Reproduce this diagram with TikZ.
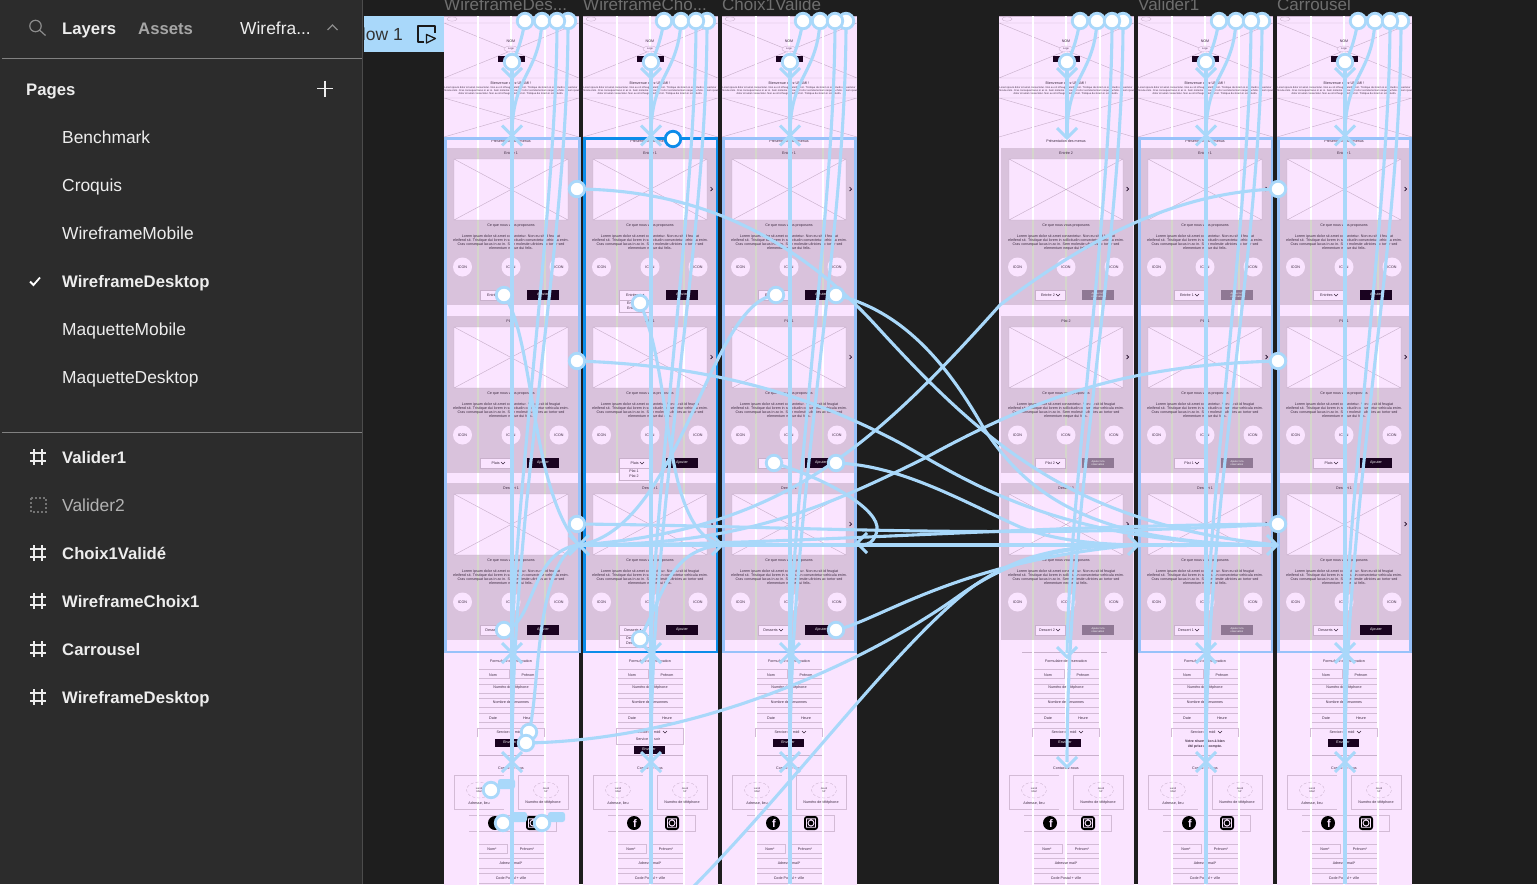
\documentclass[tikz,border=0pt]{standalone}
\usepackage{fontspec}
\setmainfont{Liberation Sans}
\definecolor{sidebar}{HTML}{2C2C2C}
\definecolor{canvas}{HTML}{1E1E1E}
\definecolor{wfpink}{HTML}{FAE4FF}
\definecolor{wfpurple}{HTML}{D9C2DC}
\definecolor{wfline}{HTML}{C9B1CC}
\definecolor{wfguide}{HTML}{D5D6CC}
\definecolor{wfink}{HTML}{3C2A40}
\definecolor{wfblack}{HTML}{1A0320}
\definecolor{wfgrey}{HTML}{8F7894}
\definecolor{flowblue}{HTML}{A9D8FA}
\definecolor{selblue}{HTML}{0C8CE9}
\definecolor{sidetext}{HTML}{EDEDED}
\tikzset{
  x=1pt,y=-1pt,
  tiny3/.style={font=\fontsize{3.65}{4.2}\selectfont,text=wfink,inner sep=0pt,align=center},
  tiny2/.style={font=\fontsize{2.55}{3.4}\selectfont,text=wfink,inner sep=0pt,align=center},
  wfbox/.style={draw=wfline!80!wfpink,line width=.45pt},
  wfthin/.style={draw=wfline,line width=.35pt},
  flowline/.style={draw=flowblue,line width=3.1pt},
  flowtip/.style={draw=flowblue,line width=3.1pt},
  hotspot/.style={circle,draw=flowblue,fill=white,line width=2.8pt,minimum size=15.5pt,inner sep=0pt},
  pill/.style={fill=flowblue,rounded corners=2.5pt},
  sidereg/.style={font=\fontsize{17.4}{20}\selectfont,text=sidetext,anchor=base west,inner sep=0pt,yshift=-6pt},
  sidebold/.style={font=\fontsize{16.7}{20}\bfseries\selectfont,text=sidetext,anchor=base west,inner sep=0pt,yshift=-6pt},
  frametitle/.style={font=\fontsize{17}{20}\selectfont,text=black!57,anchor=base west,inner sep=0pt},
}
\newcommand\chevD[1]{\draw[flowtip] (#1) ++(-10,-10) -- ++(10,10) -- ++(10,-10);}
\newcommand\chevU[1]{\draw[flowtip] (#1) ++(-10,10) -- ++(10,-10) -- ++(10,10);}
\newcommand\chevR[1]{\draw[flowtip] (#1) ++(-10,-10) -- ++(10,10) -- ++(-10,10);}
\newcommand\chevL[1]{\draw[flowtip] (#1) ++(10,-10) -- ++(-10,10) -- ++(10,10);}
\newcommand\wfimage[4]{%
  \fill[wfpink] (#1,#2) rectangle (#3,#4);
  \draw[white,line width=1.6pt] (34,#2) -- (34,#4) (67,#2) -- (67,#4) (101,#2) -- (101,#4);
  \draw[wfline,line width=.45pt] (#1,#2) rectangle (#3,#4) (#1,#2) -- (#3,#4) (#1,#4) -- (#3,#2);}
\newcommand\hashicon[2]{\draw[sidetext,line width=1.3pt] (#1-4,#2-8) -- (#1-4,#2+8) (#1+4,#2-8) -- (#1+4,#2+8) (#1-8,#2-4) -- (#1+8,#2-4) (#1-8,#2+4) -- (#1+8,#2+4);}
% frame background, hero, form, footer
\newcommand\wfbase{%
  \fill[wfpink] (0,16) rectangle (135,890);
  \draw[wfline,line width=.5pt] (0,16.3) -- (135,16.3);
  \draw[wfline,line width=.45pt] (0,23) -- (135,23) (0,78) -- (135,23) (0,23) -- (135,78) (0,78) -- (135,78);
  \draw[wfline,line width=.45pt] (0,98) -- (135,98) (0,137) -- (135,98) (0,98) -- (135,137);
  % form boxes
  \draw[wfthin] (23,652) -- (108,652);
  \draw[wfbox] (65,669) -- (33,669) -- (33,678) -- (65,678) -- cycle (65,669) -- (100,669) (65,678) -- (100,678);
  \draw[wfbox] (33,684) -- (100,684) (33,693) -- (100,693);
  \draw[wfbox] (100,698) -- (33,698) -- (33,707) -- (100,707);
  \draw[wfbox] (65,713) -- (33,713) -- (33,722) -- (65,722) (65,713) -- (100,713) (65,722) -- (100,722);
  \draw[wfthin] (35,755) -- (100,755);
  \draw[wfbox] (60,775) -- (10,775) -- (10,809) -- (60,809);
  \draw[wfbox] (74,775) rectangle (124,809);
  \draw[wfbox] (25,815) -- (112,815) -- (112,831) -- (25,831);
  \draw[wfbox] (33,853) -- (33,844) -- (63,844) -- (63,853) -- cycle (67,844) -- (100,844) -- (100,853) -- (67,853);
  \draw[wfbox] (33,858) -- (100,858) -- (100,868) -- (33,868);
  \draw[wfbox] (33,873) -- (100,873) -- (100,883) -- (33,883);
  \draw[white,line width=1.6pt] (34,16) -- (34,890) (67,16) -- (67,890) (101,16) -- (101,890);
  % hero texts
  \draw[wfthin] (8,19) ellipse (5 and 2.2);
  \node[tiny3] (n1) at (67,41) {NOM};
  \draw[wfthin,fill=wfpink] (67,49) ellipse (7 and 3);
  \node[tiny2] (n2) at (67,49) {Logo};
  \fill[wfblack] (54,56) rectangle (81,62);
  \node[tiny3] (n3) at (67,83.5) {Bienvenue chez UNAMI !};
  \node[tiny2] (n4) at (67,87.5) {Lorem ipsum dolor sit amet consectetur. Non eu sit id feugiat eleifend sit. Tristique dui lorem in sollicitudin consectetur};
  \node[tiny2] (n5) at (67,90.8) {vehicula enim. Cras consequat lacus in ac in. Sem molestie ultricies ac tortor sed elementum neque dui felis. Lorem ipsum};
  \node[tiny2] (n6) at (67,94) {dolor sit amet consectetur. Non eu sit id feugiat eleifend sit. Tristique dui lorem in sollicitudin.};
  \node[tiny3] (n7) at (67,141) {Présentation des menus};
  % form texts
  \node[tiny3] (n8) at (67,661) {Formulaire de réservation};
  \node[tiny3] (n9) at (49,675) {Nom};
  \node[tiny3] (n10) at (84,675) {Prénom};
  \node[tiny3] (n11) at (67,688) {Numéro de téléphone};
  \node[tiny3] (n12) at (67,703) {Nombre de personnes};
  \node[tiny3] (n13) at (49,718) {Date};
  \node[tiny3] (n14) at (84,718) {Heure};
  \node[tiny3] (n15) at (67,768) {Contactez-nous};
  \draw[wfthin,densely dashed] (35,790) ellipse (12.5 and 8) (102,790) ellipse (12.5 and 8);
  \node[tiny2] (n16) at (35,790) {Lundi\\9AM};
  \node[tiny2] (n17) at (102,790) {Jeudi\\5P};
  \node[tiny3] (n18) at (35,803) {Adresse, lieu};
  \node[tiny3] (n19) at (99,803) {Numéro de téléphone};
  \fill[black] (51,823) circle (7);
  \node[font=\fontsize{11}{11}\bfseries\selectfont,text=wfpink,inner sep=0pt] (n20) at (52,824) {f};
  \fill[black,rounded corners=3pt] (82,816) rectangle (96,830);
  \draw[wfpink,line width=.9pt] (89,823) circle (3) (84.5,818.8) rectangle (93.5,827.2);
  \node[tiny3] (n21) at (48,849) {Nom*};
  \node[tiny3] (n22) at (83,849) {Prénom*};
  \node[tiny3] (n23) at (67,863) {Adresse mail*};
  \node[tiny3] (n24) at (67,878) {Code Postal + ville};
}
% menu section #1=offset #2=title #3=dropdown #4=mode(0 black,1 grey)
\newcommand\wfsec[4]{%
  \begin{scope}[shift={(0,#1)}]
  \fill[wfpurple] (2,148) rectangle (134,305);
  \draw[wfguide,line width=1.2pt] (34,148) -- (34,305) (67,148) -- (67,305) (101,148) -- (101,305);
  \node[tiny3] (t1) at (67,153) {#2};
  \wfimage{10}{159}{124}{220}
  \draw[wfblack,line width=.7pt] (127.5,187) -- (129.5,189) -- (127.5,191);
  \node[tiny3] (t2) at (67,226) {Ce que nous vous proposons};
  \node[tiny3] (t3) at (67,237) {Lorem ipsum dolor sit amet consectetur. Non eu sit id feugiat};
  \node[tiny3] (t4) at (67,241) {eleifend sit. Tristique dui lorem in sollicitudin consectetur vehicula enim.};
  \node[tiny3] (t5) at (67,245) {Cras consequat lacus in ac in. Sem molestie ultricies ac tortor sed};
  \node[tiny3] (t6) at (67,249) {elementum neque dui felis.};
  \fill[wfpink] (18.5,267) circle (9.5) (67,267) circle (9.5) (115,267) circle (9.5);
  \node[tiny3] (t7) at (18.5,267) {ICON};
  \node[tiny3] (t8) at (67,267) {ICON};
  \node[tiny3] (t9) at (115,267) {ICON};
  \fill[wfpink,draw=wfline,line width=.3pt] (36,290) rectangle (66,300);
  \node[tiny3,anchor=east] (t10) at (56,295) {#3};
  \draw[wfink,line width=.55pt] (57,294) -- (59,296) -- (61,294);
  \ifnum#4=0
    \fill[wfblack] (83,290) rectangle (115,300);
    \node[tiny3,text=white] (t11) at (99,295) {Ajouter};
  \else
    \fill[wfgrey] (83,290) rectangle (115,300);
    \node[tiny2,text=white] (t11) at (99,295) {Ajouter à la\\réservation};
  \fi
  \end{scope}}
\newcommand\wfpanel[3]{% y, line1, line2
  \fill[wfpink,draw=wfline,line width=.3pt] (36,#1) rectangle (66,#1+12);
  \node[tiny3] (p1) at (51,#1+3.5) {#2};
  \node[tiny3] (p2) at (51,#1+8.5) {#3};}
\newcommand\wfservicehead{%
  \draw[wfbox] (33,737) -- (33,728) -- (100,728) -- (100,737);
  \node[tiny3] (s1) at (65,732) {Service du midi};
  \draw[wfink,line width=.55pt] (80,731) -- (82,733) -- (84,731);}
\newcommand\wfservice{%
  \wfservicehead
  \fill[wfblack] (51,739) rectangle (82,747);
  \node[tiny3,text=white] (s2) at (66,743) {Envoyer};}
\newcommand\wfserviceopen{%
  \wfservicehead
  \draw[wfbox] (33,737) -- (33,744) -- (100,744) -- (100,737);
  \node[tiny3] (s3) at (65,739) {Service du soir};
  \fill[wfblack] (51,746) rectangle (82,754);
  \node[tiny3,text=white] (s2) at (66,750) {Envoyer};}
\newcommand\wfservicedone{%
  \wfservicehead
  \node[tiny3,font=\fontsize{3.5}{4.3}\bfseries\selectfont] (s4) at (67,744) {Votre réservation à bien\\été prise en compte.};}
% flow set for one frame
\newcommand\frameflow[2]{%
  \begin{scope}[shift={(#2,0)}]
  \coordinate (#1a) at (81,21);
  \coordinate (#1b) at (98,21);
  \coordinate (#1c) at (113,21);
  \coordinate (#1d) at (124,21);
  \coordinate (#1h) at (68,62);
  \coordinate (#1u) at (68,135.5);
  \coordinate (#1v) at (68,653);
  \coordinate (#1w) at (68,762);
  \coordinate (#1e) at (68,78);
  \draw[flowline] (#1a) .. controls (78,38) and (74,52) .. (#1h);
  \draw[flowline] (#1b) .. controls (95,75) and (68,75) .. (#1u);
  \draw[flowline] (#1c) .. controls (113,200) and (70,500) .. (#1v);
  \draw[flowline] (#1d) .. controls (124,250) and (68,500) .. (#1w);
  \chevD{#1e}
  \end{scope}}
\newcommand\framehot[1]{%
  \node[hotspot] (#1An) at (#1a) {};
  \node[hotspot] (#1Bn) at (#1b) {};
  \node[hotspot] (#1Dn) at (#1d) {};
  \node[hotspot] (#1Cn) at (#1c) {};
  \node[hotspot] (#1Hn) at (#1h) {};}
\newcommand\framecross[1]{\chevD{#1u}\chevU{#1u}\chevD{#1v}\chevU{#1v}\chevD{#1w}\chevU{#1w}}
\begin{document}
\begin{tikzpicture}
\useasboundingbox (0,0) rectangle (1537,884);
\clip (0,0) rectangle (1537,884);
\fill[canvas] (0,0) rectangle (1537,884);
% ---------- canvas frames
\node[frametitle] (t1) at (444,10) {WireframeDes...};
\node[frametitle] (t2) at (583,10) {WireframeCho...};
\node[frametitle] (t3) at (722,10) {Choix1Valide};
\node[frametitle] (t5) at (1138,10) {Valider1};
\node[frametitle] (t6) at (1277,10) {Carrousel};

\begin{scope}[shift={(444,0)}]\wfbase
 \wfsec{0}{Entrée 1}{Entrées}{0}\wfsec{168}{Plat 1}{Plats}{0}\wfsec{335}{Dessert 1}{Desserts}{0}\wfservice\end{scope}
\begin{scope}[shift={(583,0)}]\wfbase
 \wfsec{0}{Entrée 1}{Entrées}{0}\wfsec{168}{Plat 1}{Plats}{0}\wfsec{335}{Dessert 1}{Desserts}{0}\wfserviceopen
 \wfpanel{300}{Entrée 1}{Entrée 2}\wfpanel{468}{Plat 1}{Plat 2}\wfpanel{635}{Dessert 1}{Dessert 2}\end{scope}
\begin{scope}[shift={(722,0)}]\wfbase
 \wfsec{0}{Entrée 1}{Entrées}{0}\wfsec{168}{Plat 1}{Plats}{0}\wfsec{335}{Dessert 1}{Desserts}{0}\wfservice\end{scope}
\begin{scope}[shift={(999,0)}]\wfbase
 \wfsec{0}{Entrée 2}{Entrée 2}{1}\wfsec{168}{Plat 2}{Plat 2}{1}\wfsec{335}{Dessert 2}{Dessert 2}{1}\wfservice\end{scope}
\begin{scope}[shift={(1138,0)}]\wfbase
 \wfsec{0}{Entrée 1}{Entrée 1}{1}\wfsec{168}{Plat 1}{Plat 1}{1}\wfsec{335}{Dessert 1}{Dessert 1}{1}\wfservicedone\end{scope}
\begin{scope}[shift={(1277,0)}]\wfbase
 \wfsec{0}{Entrée 1}{Entrées}{0}\wfsec{168}{Plat 1}{Plats}{0}\wfsec{335}{Dessert 1}{Desserts}{0}\wfservice\end{scope}
% selections
\draw[flowblue!90!blue,line width=2.6pt] (445.3,138.3) rectangle (579.7,652);
\draw[flowblue!90!blue,line width=2.6pt] (723.3,138.3) rectangle (855.7,652);
\draw[flowblue!90!blue,line width=2.6pt] (1139.3,138.3) rectangle (1272,652);
\draw[flowblue!90!blue,line width=2.6pt] (1278.3,138.3) rectangle (1410.7,652);
\draw[selblue,line width=2.8pt] (584.3,138.3) rectangle (717,652);
% ---------- flow tab
\fill[flowblue] (364,16) rectangle (444,52);
\begin{scope}
 \clip (364,16) rectangle (444,52);
 \node[font=\fontsize{17.5}{20}\selectfont,text=black!80,anchor=base east,inner sep=0pt] (flowlabel) at (403,40) {Flow 1};
\end{scope}
\draw[black!90,line width=1.3pt,line join=round] (424,42) -- (418,42) -- (418,26) -- (435,26) -- (435,33);
\draw[black!90,line width=1.3pt,line join=round] (426.5,34.5) -- (435.5,38.5) -- (426.5,43) -- cycle;
% ---------- flows
\frameflow{A}{444}\frameflow{B}{583}\frameflow{C}{722}
\frameflow{D}{999}\frameflow{E}{1138}\frameflow{F}{1277}
\draw[flowline] (Ah) -- (512,884);
\draw[flowline] (Bh) -- (651,884);
\draw[flowline] (Ch) -- (790,884);
\draw[flowline] (Dh) -- (Du);
\draw[flowline] (Eh) -- (1206,884);
\draw[flowline] (Fh) -- (1345,884);
\framecross{A}\framecross{B}\framecross{C}\framecross{E}\framecross{F}
\coordinate (Dt1) at (1067,138);\coordinate (Dt2) at (1067,657);\coordinate (Dt3) at (1067,767);
\chevD{Dt1}\chevD{Dt2}\chevD{Dt3}

\coordinate (r1) at (577,189);\coordinate (r2) at (577,361);\coordinate (r3) at (577,524);
\coordinate (l1) at (1278,189);\coordinate (l2) at (1278,361);\coordinate (l3) at (1278,524);
\coordinate (d1) at (504,295);\coordinate (d2) at (504,630);
\coordinate (e1) at (640,303);\coordinate (e2) at (640,639);
\coordinate (g1) at (776,295);\coordinate (g2) at (836,295);
\coordinate (g3) at (774,463);\coordinate (g4) at (836,463);\coordinate (g5) at (836,630);
\coordinate (f1) at (529,732);\coordinate (f2) at (526,743);
\coordinate (c1) at (491,790);\coordinate (c2) at (503,823);\coordinate (c3) at (542,823);
\coordinate (sel) at (673,139);
\coordinate (off) at (690,890);
\coordinate (X) at (579,545);\coordinate (Y) at (722,545);\coordinate (Y2) at (857,543);
\coordinate (Z) at (1138,545);\coordinate (W) at (1277,545);

\draw[flowline] (r1) .. controls (690,190) and (790,230) .. (880,330) .. controls (990,450) and (1080,525) .. (W);
\draw[flowline] (r2) .. controls (700,365) and (800,390) .. (900,443) .. controls (970,482) and (1060,545) .. (W);
\draw[flowline] (g2) .. controls (900,310) and (945,360) .. (983,427) .. controls (1030,500) and (1100,545) .. (W);
\draw[flowline] (g4) .. controls (900,465) and (960,500) .. (1020,527) .. controls (1080,550) and (1150,545) .. (W);
\draw[flowline] (r3) .. controls (800,526) and (1000,540) .. (l3);
\draw[flowline] (l3) .. controls (1000,526) and (800,545) .. (X);
\draw[flowline] (X) -- (W);
\draw[flowline] (l1) .. controls (1170,192) and (1080,245) .. (1000,305) .. controls (870,450) and (780,530) .. (X);
\draw[flowline] (l2) .. controls (1130,365) and (1040,395) .. (927,457) .. controls (820,510) and (740,545) .. (X);
\draw[flowline] (g5) .. controls (880,620) and (960,560) .. (Z);
\draw[flowline] (f2) .. controls (700,740) and (870,660) .. (960,595) .. controls (1010,560) and (1060,545) .. (Z);
\draw[flowline] (off) .. controls (790,790) and (900,640) .. (975,585) .. controls (1020,555) and (1060,545) .. (Z);
\draw[flowline] (d1) .. controls (535,340) and (530,490) .. (X);
\draw[flowline] (d2) .. controls (535,625) and (530,550) .. (X);
\draw[flowline] (f1) .. controls (540,690) and (535,560) .. (X);
\draw[flowline] (e1) .. controls (675,380) and (660,530) .. (Y);
\draw[flowline] (e2) .. controls (665,590) and (670,550) .. (Y);
\draw[flowline] (g1) .. controls (710,300) and (680,530) .. (X);
\draw[flowline] (g3) .. controls (830,480) and (880,510) .. (877,530) .. controls (874,548) and (860,545) .. (Y2);
\chevD{X}\chevU{X}\chevR{Y}\chevR{Z}\chevR{W}\chevL{Y2}
\fill[pill] (498,779) rectangle (515,789);
\fill[pill] (510,812) rectangle (527,822);
\fill[pill] (548,812) rectangle (565,822);
\framehot{A}\framehot{B}\framehot{C}\framehot{D}\framehot{E}\framehot{F}
\foreach \p in {r1,r2,r3,l1,l2,l3,d1,d2,e1,e2,g1,g2,g3,g4,g5,f1,f2,c1,c2,c3}{\node[hotspot] (H\p) at (\p) {};}
\node[hotspot,draw=selblue] (Hsel) at (sel) {};
% ---------- sidebar
\fill[sidebar] (0,0) rectangle (362,884);
\draw[black!70,line width=1pt] (362.5,0) -- (362.5,884);
\draw[white!40!sidebar,line width=1pt] (2,58.5) -- (362,58.5) (2,432.5) -- (362,432.5);
\draw[black!45,line width=1.2pt] (35.5,26) circle (5.7) (39.8,30.3) -- (45.5,35.5);
\node[sidebold] (tabL) at (62,28) {Layers};
\node[sidebold,text=black!35] (tabA) at (138,28) {Assets};
\node[sidereg] (tabW) at (240,28) {Wirefra...};
\draw[black!45,line width=1.1pt] (327.5,30) -- (332.5,25) -- (337.5,30);
\node[sidebold] (pagesL) at (26,89) {Pages};
\draw[sidetext,line width=1.2pt] (317,88.5) -- (333,88.5) (325,80.5) -- (325,96.5);
\node[sidereg] (p1) at (62,137) {Benchmark};
\node[sidereg] (p2) at (62,185) {Croquis};
\node[sidereg] (p3) at (62,233) {WireframeMobile};
\node[sidebold] (p4) at (62,281) {WireframeDesktop};
\node[sidereg] (p5) at (62,329) {MaquetteMobile};
\node[sidereg] (p6) at (62,377) {MaquetteDesktop};
\draw[white,line width=1.8pt] (30,281.5) -- (33.5,285) -- (40,277.5);
\hashicon{38}{457}
\node[sidebold] (l1n) at (62,457) {Valider1};
\draw[black!55,line width=1.2pt,dash pattern=on 2pt off 2pt] (31,498) rectangle (46,512);
\node[sidereg,text=black!30] (l2n) at (62,505) {Valider2};
\hashicon{38}{553}
\node[sidebold] (l3n) at (62,553) {Choix1Validé};
\hashicon{38}{601}
\node[sidebold] (l4n) at (62,601) {WireframeChoix1};
\hashicon{38}{649}
\node[sidebold] (l5n) at (62,649) {Carrousel};
\hashicon{38}{697}
\node[sidebold] (l6n) at (62,697) {WireframeDesktop};
\end{tikzpicture}
\end{document}
